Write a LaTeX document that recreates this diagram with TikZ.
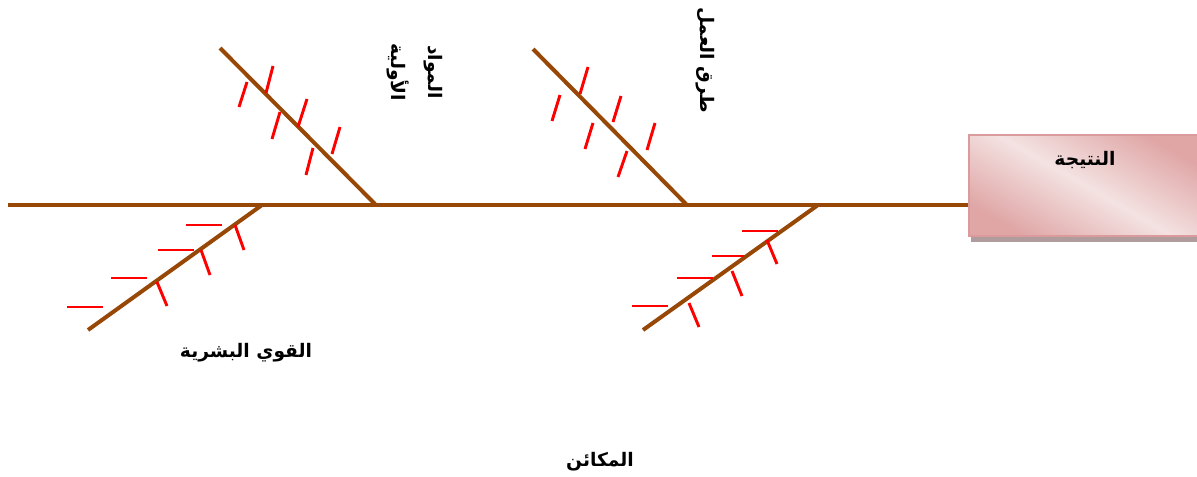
\documentclass[tikz,border=0pt]{standalone}
\usepackage{fontspec}
\newfontfamily\arabicfont[Script=Arabic]{DejaVu Sans}
\TeXXeTstate=1
\usetikzlibrary{calc,shadows}
\definecolor{bone}{HTML}{984806}
\definecolor{tickred}{HTML}{FF0000}
\definecolor{resbg}{HTML}{F4E2E2}
\definecolor{resdark}{HTML}{E0A6A6}
\definecolor{resline}{HTML}{DB9A9B}
\definecolor{resshadow}{HTML}{B09C9C}
\begin{document}
\begin{tikzpicture}[x=0.75pt,y=-0.75pt,
  spine/.style={draw=bone,line width=3pt},
  fishbone/.style={draw=bone,line width=3pt},
  tickmark/.style={draw=tickred,line width=2.2pt},
  lbl/.style={font=\arabicfont\bfseries\fontsize{14}{16}\selectfont,inner sep=0pt},
  resbox/.style={draw=resline,line width=1.5pt,minimum width=174pt,minimum height=75.5pt,
    top color=resdark,bottom color=resdark,middle color=resbg,shading angle=-30,
    drop shadow={shadow xshift=1.5pt,shadow yshift=-4.5pt,fill=resshadow,opacity=1}},
]
\useasboundingbox (0,0) rectangle (1197,476);
\node[resbox,anchor=north west] (result) at (968,134) {};
\node[lbl] (resulttxt) at ($(result.north)+(0,26)$) {\beginR النتيجة\endR};
\coordinate (tail) at (8,205);
\draw[spine] (tail) -- (tail -| result.west);
\foreach \nm/\sx/\sy/\ex/\ey in {ul/220/48/375/204,ur/533/49/686/204,ll/88/330/262/205,lr/643/330/818/205}{
  \coordinate (\nm s) at (\sx,\sy);
  \coordinate (\nm e) at (\ex,\ey);
  \draw[fishbone] (\nm s) -- (\nm e);
}
\foreach \ax/\ay/\bx/\by in {247/82/239/107,273/66/266/93,280/112/272/139,307/99/298/127,313/148/306/175,340/127/332/154,
  560/95/552/121,588/67/580/94,593/123/585/149,621/96/613/122,627/151/618/177,655/123/647/150,
  67/307/103/307,111/278/147/278,158/250/194/250,186/225/222/225,157/282/167/306,201/250/210/275,235/225/244/250,
  632/306/668/306,677/278/713/278,712/256/744/256,742/231/778/231,689/303/699/327,732/271/742/296,767/240/777/264}{
  \draw[tickmark] (\ax,\ay) -- (\bx,\by);
}
\node[lbl,rotate=-90,align=center,font=\arabicfont\bfseries\fontsize{14}{28}\selectfont] (materials) at (415,72) {\beginR المواد\endR\\\beginR الأولية\endR};
\node[lbl,rotate=-90] (methods) at (705,60) {\beginR طرق العمل\endR};
\node[lbl] (manpower) at (246,353) {\beginR القوي البشرية\endR};
\node[lbl] (machines) at (600,462) {\beginR المكائن\endR};
\end{tikzpicture}
\end{document}
